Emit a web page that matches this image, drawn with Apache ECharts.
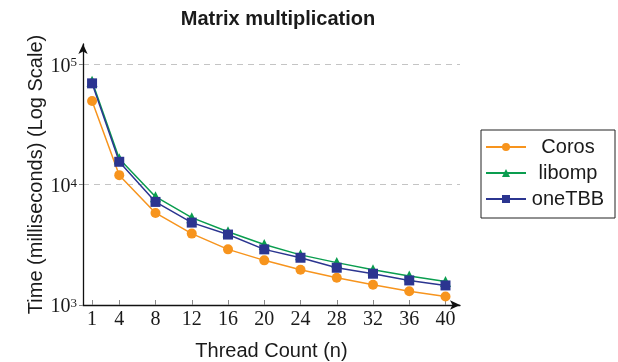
<!DOCTYPE html>
<html>
<head>
<meta charset="utf-8">
<script src="https://cdn.jsdelivr.net/npm/echarts@6/dist/echarts.min.js"></script>
<style>
  html, body { margin: 0; padding: 0; background: #fff; }
  #chart { width: 618px; height: 362px; }
</style>
</head>
<body>
<div id="chart"></div>
<script>
// thread counts on the x axis
const threads = [1, 4, 8, 12, 16, 20, 24, 28, 32, 36, 40];
// time in ms
const coros  = [49600, 12000, 5820, 3920, 2900, 2350, 1965, 1685, 1475, 1303, 1177];
const libomp = [72500, 16400, 7950, 5320, 4060, 3180, 2610, 2250, 1960, 1740, 1565];
const onetbb = [69500, 15500, 7190, 4840, 3850, 2900, 2470, 2040, 1820, 1600, 1454];
const yTicks = [1000, 10000, 100000];

const serif = '"Liberation Serif", "DejaVu Serif", serif';
const sans = '"Liberation Sans", Arial, sans-serif';

const chart = echarts.init(document.getElementById('chart'));

const pairs = (ys) => threads.map((t, i) => [t, ys[i]]);
const mkSeries = (name, ys, color, symbol, size) => ({
  name,
  type: 'line',
  data: pairs(ys),
  symbol,
  symbolSize: size,
  showSymbol: true,
  lineStyle: { color, width: 1.5 },
  itemStyle: { color },
  emphasis: { disabled: true },
  animation: false,
});

chart.setOption({
  animation: false,
  title: {
    text: 'Matrix multiplication',
    left: 273,
    textAlign: 'center',
    top: 4,
    textStyle: { fontFamily: sans, fontSize: 20, fontWeight: 'bold', color: '#1a1a1a' },
  },
  grid: { left: 83, right: 158, top: 44, bottom: 57, outerBoundsMode: 'none', containLabel: false },
  legend: {
    left: 481,
    top: 130,
    orient: 'vertical',
    borderColor: '#222',
    borderWidth: 1,
    padding: [7, 10, 9, 4],
    itemWidth: 40,
    itemHeight: 10,
    itemGap: 6,
    formatter: (n) => '{c|' + n + '}',
    textStyle: {
      rich: { c: { width: 74, align: 'center', fontFamily: sans, fontSize: 20, lineHeight: 20, color: '#1a1a1a' } },
    },
    data: ['Coros', 'libomp', 'oneTBB'],
  },
  xAxis: {
    type: 'value',
    min: 0,
    max: 41.6,
    name: 'Thread Count (n)',
    nameLocation: 'middle',
    nameGap: 36,
    nameMoveOverlap: false,
    nameTextStyle: { fontFamily: sans, fontSize: 20, color: '#1a1a1a' },
    axisLine: { lineStyle: { color: '#111', width: 1.3 }, symbol: ['none', 'arrow'], symbolSize: [7, 10] },
    axisTick: { customValues: threads, inside: true, length: 5, lineStyle: { color: '#888' } },
    axisLabel: { customValues: threads, margin: 5, fontFamily: serif, fontSize: 20, color: '#1a1a1a' },
    splitLine: { show: false },
  },
  yAxis: {
    type: 'log',
    logBase: 10,
    min: 1000,
    max: 147600,
    name: 'Time (milliseconds) (Log Scale)',
    nameLocation: 'middle',
    nameGap: 37,
    nameMoveOverlap: false,
    nameTextStyle: { fontFamily: sans, fontSize: 20, color: '#1a1a1a' },
    axisLine: { show: true, lineStyle: { color: '#111', width: 1.3 }, symbol: ['none', 'arrow'], symbolSize: [7, 10] },
    axisTick: { show: true, customValues: yTicks, length: 4, lineStyle: { color: '#888' } },
    axisLabel: {
      customValues: yTicks,
      margin: 6,
      fontFamily: serif,
      fontSize: 20,
      color: '#1a1a1a',
      padding: [4, 0, 0, 0],
      formatter: (v) => '10{s|' + Math.round(Math.log10(v)) + '}',
      rich: { s: { fontFamily: serif, fontSize: 13, verticalAlign: 'top', color: '#1a1a1a' } },
    },
    splitLine: { show: true, lineStyle: { color: '#c4c4c4', type: [6, 5], width: 1 } },
  },
  series: [
    mkSeries('Coros', coros, '#f7941d', 'circle', 10),
    mkSeries('libomp', libomp, '#0a9d4f', 'triangle', 11),
    mkSeries('oneTBB', onetbb, '#2b3590', 'rect', 10),
  ],
});
</script>
</body>
</html>
